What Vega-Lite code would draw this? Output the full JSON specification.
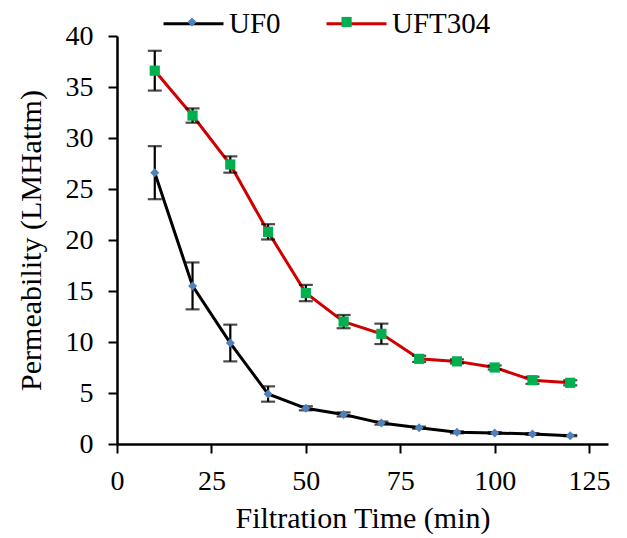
{
  "$schema": "https://vega.github.io/schema/vega-lite/v6.json",
  "width": 491,
  "height": 408,
  "autosize": {"type": "none"},
  "padding": {"left": 117, "top": 36, "right": 19, "bottom": 94},
  "background": "white",
  "config": {
    "view": {"stroke": null},
    "font": "Liberation Serif",
    "axis": {
      "grid": false,
      "domainColor": "black",
      "domainWidth": 2.5,
      "tickColor": "black",
      "tickWidth": 2,
      "tickSize": 9,
      "labelFont": "Liberation Serif",
      "labelFontSize": 28,
      "labelColor": "black",
      "titleFont": "Liberation Serif",
      "titleFontSize": 30,
      "titleFontWeight": "normal",
      "titleColor": "black",
      "labelFlush": false,
      "labelOverlap": false
    },
    "legend": {
      "labelFont": "Liberation Serif",
      "labelFontSize": 29,
      "labelColor": "black"
    }
  },
  "data": {
    "values": [
      {"series": "UF0", "time": 10, "value": 26.6, "err": 2.6},
      {"series": "UF0", "time": 20, "value": 15.5, "err": 2.3},
      {"series": "UF0", "time": 30, "value": 9.9, "err": 1.8},
      {"series": "UF0", "time": 40, "value": 4.9, "err": 0.75},
      {"series": "UF0", "time": 50, "value": 3.5, "err": 0.2},
      {"series": "UF0", "time": 60, "value": 2.9, "err": 0.2},
      {"series": "UF0", "time": 70, "value": 2.05, "err": 0.15},
      {"series": "UF0", "time": 80, "value": 1.6, "err": 0.1},
      {"series": "UF0", "time": 90, "value": 1.15, "err": 0.1},
      {"series": "UF0", "time": 100, "value": 1.08, "err": 0.08},
      {"series": "UF0", "time": 110, "value": 0.98, "err": 0.08},
      {"series": "UF0", "time": 120, "value": 0.82, "err": 0.06},
      {"series": "UFT304", "time": 10, "value": 36.6, "err": 1.95},
      {"series": "UFT304", "time": 20, "value": 32.2, "err": 0.7},
      {"series": "UFT304", "time": 30, "value": 27.4, "err": 0.8},
      {"series": "UFT304", "time": 40, "value": 20.8, "err": 0.75},
      {"series": "UFT304", "time": 50, "value": 14.8, "err": 0.8},
      {"series": "UFT304", "time": 60, "value": 12.0, "err": 0.65},
      {"series": "UFT304", "time": 70, "value": 10.8, "err": 1.0},
      {"series": "UFT304", "time": 80, "value": 8.35, "err": 0.3},
      {"series": "UFT304", "time": 90, "value": 8.1, "err": 0.2},
      {"series": "UFT304", "time": 100, "value": 7.5, "err": 0.2},
      {"series": "UFT304", "time": 110, "value": 6.25, "err": 0.35},
      {"series": "UFT304", "time": 120, "value": 6.0, "err": 0.25}
    ]
  },
  "encoding": {
    "x": {
      "field": "time",
      "type": "quantitative",
      "scale": {"domain": [0, 130], "nice": false},
      "axis": {"title": "Filtration Time (min)", "values": [0, 25, 50, 75, 100, 125], "labelPadding": 14, "titlePadding": 8}
    },
    "y": {
      "field": "value",
      "type": "quantitative",
      "scale": {"domain": [0, 40], "nice": false},
      "axis": {"title": "Permeability  (LMHattm)", "values": [0, 5, 10, 15, 20, 25, 30, 35, 40], "labelPadding": 15, "titlePadding": 19}
    }
  },
  "layer": [
    {
      "mark": {"type": "line", "strokeWidth": 3},
      "encoding": {
        "stroke": {
          "field": "series",
          "type": "nominal",
          "scale": {"domain": ["UF0", "UFT304"], "range": ["#000000", "#d00000"]},
          "legend": {
            "orient": "none", "legendX": 45, "legendY": -44, "direction": "horizontal",
            "title": null, "symbolType": "stroke", "symbolSize": 3600, "symbolStrokeWidth": 3,
            "labelOffset": 4, "columnPadding": 39, "padding": 0
          }
        }
      }
    },
    {
      "mark": {"type": "errorbar", "color": "black", "thickness": 2.2, "ticks": {"size": 14, "thickness": 2.2}},
      "encoding": {"yError": {"field": "err"}}
    },
    {
      "mark": {"type": "point", "filled": true, "size": 3600, "opacity": 1},
      "encoding": {
        "fill": {
          "field": "series",
          "type": "nominal",
          "scale": {"range": ["#4f81bd", "#00b050"]},
          "legend": {
            "orient": "none", "legendX": 45, "legendY": -44, "direction": "horizontal",
            "title": null, "symbolSize": 3600, "symbolStrokeWidth": 0, "labelExpr": "''",
            "labelOffset": 4, "columnPadding": 90.6, "padding": 0
          }
        },
        "shape": {
          "field": "series",
          "type": "nominal",
          "scale": {"range": ["M0,-0.15L0.15,0L0,0.15L-0.15,0Z", "M-0.17,-0.17H0.17V0.17H-0.17Z"]},
          "legend": {
            "orient": "none", "legendX": 45, "legendY": -44, "direction": "horizontal",
            "title": null, "symbolSize": 3600, "symbolStrokeWidth": 0, "labelExpr": "''",
            "labelOffset": 4, "columnPadding": 90.6, "padding": 0
          }
        }
      }
    }
  ]
}
